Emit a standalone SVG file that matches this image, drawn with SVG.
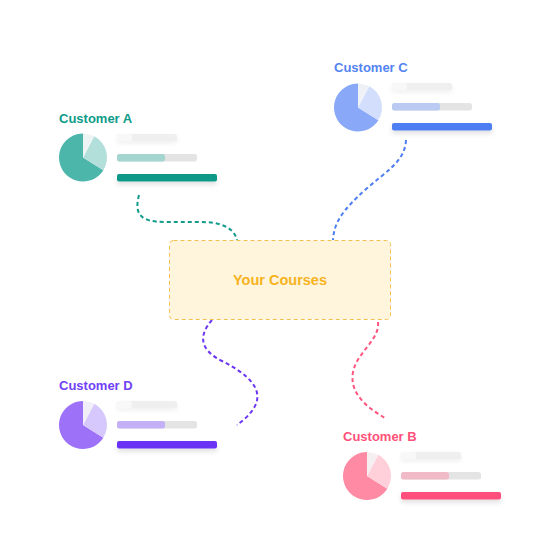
<svg xmlns="http://www.w3.org/2000/svg" width="560" height="560" viewBox="0 0 560 560">
<defs>
<filter id="sh" x="-20%" y="-100%" width="140%" height="400%">
<feDropShadow dx="0" dy="3" stdDeviation="2.5" flood-color="#000" flood-opacity="0.12"/>
</filter>
<filter id="sh2" x="-20%" y="-100%" width="140%" height="400%">
<feDropShadow dx="0" dy="2" stdDeviation="2" flood-color="#000" flood-opacity="0.06"/>
</filter>
</defs>
<style>
.lbl{font-family:"Liberation Sans",Arial,sans-serif;font-weight:bold;font-size:13px}
.track1{fill:#efefef}
.knob{fill:#f8f8f8}
.track2{fill:#e4e4e4}
.con{fill:none;stroke-width:2;stroke-dasharray:4 3;stroke-linecap:butt}
.title{font-family:"Liberation Sans",Arial,sans-serif;font-weight:bold;font-size:14.5px;fill:#f6b321}
</style>
<rect width="560" height="560" fill="#ffffff"/>

<g id="connectors">
<path class="con" stroke="#129b8a" d="M139,195 C134,214 140,222 165,222 L200,222 C222,222 234,228 237,240"/>
<path class="con" stroke="#4d7ef2" d="M406,140 C405,162 385,172 365,190 C343,210 334,222 333,240"/>
<path class="con" stroke="#6c35f4" d="M212,320 C198,336 200,350 222,361 C248,374 262,388 256,404 C252,413 244,420 237,425"/>
<path class="con" stroke="#ff5680" d="M378,322 C380,340 357,352 353,372 C349,394 368,408 385,418"/>
</g>

<g id="your-courses">
<rect x="169.5" y="240.5" width="221" height="79" rx="4" fill="#fff5dd" stroke="#f6c04f" stroke-width="1" stroke-dasharray="4 3"/>
<text class="title" x="280" y="285" text-anchor="middle">Your Courses</text>
</g>

<g id="customer-a">
<text class="lbl" x="59" y="123" fill="#0e9b89">Customer A</text>
<g transform="translate(83,157.5)">
<path d="M0,0 L20.35,12.72 A24,24 0 1 1 0,-24 Z" fill="#4db6ab"/>
<path d="M0,0 L11.27,-21.19 A24,24 0 0 1 20.35,12.72 Z" fill="#b3dfda"/>
<path d="M0,0 L0,-24 A24,24 0 0 1 11.27,-21.19 Z" fill="#eef4f3"/>
</g>
<rect class="track1" x="117" y="134" width="60" height="7.5" rx="2.5" filter="url(#sh2)"/>
<rect class="knob" x="117" y="134" width="15" height="7.5" rx="2.5"/>
<rect class="track2" x="117" y="154" width="80" height="7.5" rx="2.5"/>
<rect x="117" y="154" width="48" height="7.5" rx="2.5" fill="#a4d5cf"/>
<rect x="117" y="174" width="100" height="7.5" rx="2" fill="#0f9988" filter="url(#sh)"/>
</g>

<g id="customer-c">
<text class="lbl" x="334" y="72" fill="#5384f1">Customer C</text>
<g transform="translate(358,107.5)">
<path d="M0,0 L20.35,12.72 A24,24 0 1 1 0,-24 Z" fill="#89a9f8"/>
<path d="M0,0 L11.27,-21.19 A24,24 0 0 1 20.35,12.72 Z" fill="#d2defc"/>
<path d="M0,0 L0,-24 A24,24 0 0 1 11.27,-21.19 Z" fill="#eef1f6"/>
</g>
<rect class="track1" x="392" y="83" width="60" height="7.5" rx="2.5" filter="url(#sh2)"/>
<rect class="knob" x="392" y="83" width="15" height="7.5" rx="2.5"/>
<rect class="track2" x="392" y="103" width="80" height="7.5" rx="2.5"/>
<rect x="392" y="103" width="48" height="7.5" rx="2.5" fill="#bacaf3"/>
<rect x="392" y="123" width="100" height="7.5" rx="2" fill="#4d7ef2" filter="url(#sh)"/>
</g>

<g id="customer-d">
<text class="lbl" x="59" y="390" fill="#7141f5">Customer D</text>
<g transform="translate(83,425)">
<path d="M0,0 L20.35,12.72 A24,24 0 1 1 0,-24 Z" fill="#9d72f9"/>
<path d="M0,0 L11.27,-21.19 A24,24 0 0 1 20.35,12.72 Z" fill="#d6c8fc"/>
<path d="M0,0 L0,-24 A24,24 0 0 1 11.27,-21.19 Z" fill="#f0eef6"/>
</g>
<rect class="track1" x="117" y="401" width="60" height="7.5" rx="2.5" filter="url(#sh2)"/>
<rect class="knob" x="117" y="401" width="15" height="7.5" rx="2.5"/>
<rect class="track2" x="117" y="421" width="80" height="7.5" rx="2.5"/>
<rect x="117" y="421" width="48" height="7.5" rx="2.5" fill="#c3b0f7"/>
<rect x="117" y="441" width="100" height="7.5" rx="2" fill="#6b33f5" filter="url(#sh)"/>
</g>

<g id="customer-b">
<text class="lbl" x="343" y="441" fill="#ff5179">Customer B</text>
<g transform="translate(367,476)">
<path d="M0,0 L20.35,12.72 A24,24 0 1 1 0,-24 Z" fill="#ff8aa4"/>
<path d="M0,0 L11.27,-21.19 A24,24 0 0 1 20.35,12.72 Z" fill="#ffd0da"/>
<path d="M0,0 L0,-24 A24,24 0 0 1 11.27,-21.19 Z" fill="#f5eff1"/>
</g>
<rect class="track1" x="401" y="452" width="60" height="7.5" rx="2.5" filter="url(#sh2)"/>
<rect class="knob" x="401" y="452" width="15" height="7.5" rx="2.5"/>
<rect class="track2" x="401" y="472" width="80" height="7.5" rx="2.5"/>
<rect x="401" y="472" width="48" height="7.5" rx="2.5" fill="#f1bac7"/>
<rect x="401" y="492" width="100" height="7.5" rx="2" fill="#ff4f7b" filter="url(#sh)"/>
</g>
</svg>
